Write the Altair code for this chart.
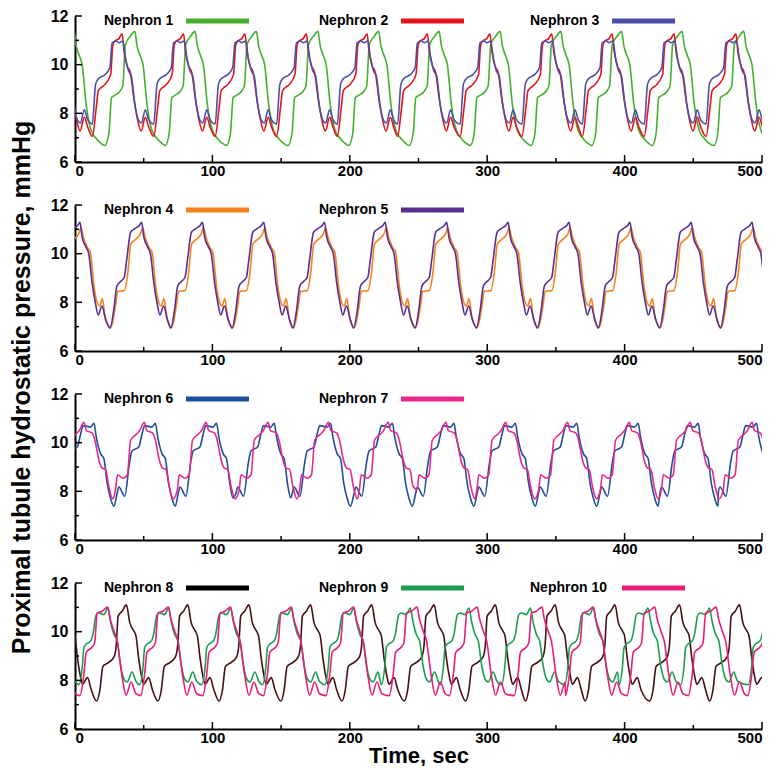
import altair as alt
import pandas as pd

FONT = "Liberation Sans"
W, H = 687, 146

# ---------------- data ----------------
X_TICKS = [0, 100, 200, 300, 400, 500]
X_MINOR = [50, 150, 250, 350, 450]
Y_TICKS = [6, 8, 10, 12]
Y_MINOR = [7, 9, 11]

LABELS = ["Nephron 1", "Nephron 2", "Nephron 3", "Nephron 4", "Nephron 5",
          "Nephron 6", "Nephron 7", "Nephron 8", "Nephron 9", "Nephron 10"]
LINE_COLORS = ["#45b02e", "#e3141b", "#4b4fa8", "#f5821f", "#5a2d91",
               "#1f4e9f", "#e8298a", "#46100f", "#1a9e4c", "#ec1b7a"]
SWATCH_COLORS = ["#45b02e", "#e3141b", "#4b4fa8", "#f5821f", "#5a2d91",
                 "#1f4e9f", "#e8298a", "#000000", "#1a9e4c", "#ec1b7a"]

# one oscillation cycle per nephron (time offset from the cycle's peak, sec / pressure, mmHg)
# and the peak time of every cycle
N1_DT = [-21.8, -18.9, -16.9, -15.2, -10.5, -8.7, -6.8, -3.2, 0.0, 1.7, 4.1, 6.0, 8.9, 12.5, 16.5, 19.5]
N1_V = [6.68, 7.16, 8.65, 8.72, 8.93, 9.13, 10.83, 11.17, 11.37, 10.76, 10.35, 10.0, 8.38, 7.3, 6.95, 6.78]
N1_PEAKS = [-0.8, 43.5, 87.4, 132.0, 176.8, 221.0, 265.0, 309.4, 353.6, 397.8, 441.8, 486.7, 531.0]

N2_DT = [-21.7, -18.8, -17.3, -12.3, -8.3, -6.8, -5.3, -2.3, 0.0, 1.4, 3.7, 6.0, 8.5, 10.9, 13.8, 16.9, 19.3]
N2_V = [7.05, 8.25, 8.93, 9.2, 9.6, 10.8, 10.97, 11.07, 11.27, 10.56, 9.95, 9.67, 8.65, 7.84, 7.27, 7.84, 7.45]
N2_PEAKS = [-10.1, 34.3, 79.0, 123.7, 168.4, 212.6, 256.5, 302.0, 347.0, 391.0, 436.0, 481.0, 525.5]

N3_DT = [-21.7, -19.3, -17.6, -12.3, -8.9, -7.3, -4.3, -2.3, 0.5, 2.4, 4.7, 6.7, 9.2, 12.1, 14.0, 16.9, 19.2]
N3_V = [7.56, 9.2, 9.4, 9.6, 9.88, 10.9, 10.97, 10.9, 10.97, 10.29, 9.74, 9.54, 8.38, 7.7, 7.6, 8.15, 7.75]
N3_PEAKS = [-10.1, 34.3, 79.0, 123.7, 168.4, 212.6, 256.5, 302.0, 347.0, 391.0, 436.0, 481.0, 525.5]

N4_DT = [-22.3, -19.1, -17.4, -12.6, -10.1, -7.8, -4.1, -1.0, 0.8, 2.5, 5.5, 7.5, 10.3, 12.7, 14.3, 16.3, 18.6]
N4_V = [6.97, 7.82, 8.45, 8.48, 9.18, 10.4, 10.6, 10.8, 11.05, 10.68, 10.25, 10.07, 8.64, 7.96, 7.85, 8.16, 7.28]
N4_PEAKS = [-41.0, 3.6, 48.5, 92.75, 137.4, 181.6, 225.8, 270.5, 315.2, 359.6, 403.9, 448.5, 492.8, 537.3]

N5_DT = [-23.0, -20.3, -18.0, -15.7, -12.7, -10.9, -8.0, -5.1, -1.7, 0.0, 1.6, 4.4, 6.4, 8.9, 11.3, 13.3, 16.0, 18.5]
N5_V = [6.94, 7.69, 8.67, 8.84, 9.02, 9.73, 10.88, 11.02, 11.16, 11.29, 10.68, 10.27, 10.0, 8.78, 7.96, 7.48, 7.85, 7.35]
N5_PEAKS = [-41.0, 3.6, 48.5, 92.75, 137.4, 181.6, 225.8, 270.5, 315.2, 359.6, 403.9, 448.5, 492.8, 537.3]

N6_DT = [-27.8, -26.6, -22.3, -18.9, -17.0, -12.1, -9.7, -7.8, -2.5, 0.0, 1.7, 4.8, 7.2, 9.6, 12.0, 14.5]
N6_V = [7.93, 8.18, 7.8, 9.15, 9.66, 9.82, 10.36, 10.7, 10.64, 10.8, 10.23, 9.55, 9.35, 8.34, 7.73, 7.39]
N6_PEAKS = [-30.9, 13.8, 58.5, 103.0, 145.0, 186.0, 231.0, 275.8, 320.5, 365.2, 409.9, 453.5, 496.0]

N7_DT = [-21.0, -19.6, -15.5, -12.4, -10.0, -6.0, -3.4, 0.0, 1.7, 6.1, 8.0, 10.9, 13.3, 15.7, 18.1, 21.0]
N7_V = [8.07, 8.68, 8.54, 8.68, 10.1, 10.34, 10.5, 10.84, 10.5, 10.39, 10.1, 9.28, 8.95, 8.9, 8.2, 7.69]
N7_PEAKS = [-38.0, 6.5, 50.5, 95.5, 140.5, 184.5, 228.0, 270.0, 313.5, 358.5, 403.4, 447.8, 492.8, 537.0]

N8_DT = [-21.7, -19.3, -17.1, -12.8, -9.1, -7.4, -6.0, -3.1, 0.0, 2.5, 5.4, 7.0, 9.0, 10.9, 12.6, 16.2, 19.0]
N8_V = [7.15, 7.6, 8.57, 8.74, 8.95, 9.42, 10.64, 10.84, 11.1, 10.36, 10.03, 9.82, 8.88, 8.2, 7.84, 8.11, 7.6]
N8_PEAKS = [-7.1, 37.4, 82.1, 126.6, 171.5, 216.0, 261.4, 306.0, 349.5, 393.0, 440.0, 483.6, 528.0]

N9_DT = [-21.0, -18.5, -17.4, -15.7, -12.5, -10.9, -8.4, -6.5, -2.9, 0.0, 1.9, 4.4, 6.8, 9.1, 11.6, 14.1, 17.6, 20.5]
N9_V = [7.82, 8.6, 9.35, 9.49, 9.62, 9.89, 10.7, 10.77, 10.7, 10.97, 10.43, 9.89, 9.62, 8.68, 8.07, 7.93, 8.34, 7.95]
N9_PEAKS = [-20.3, 23.9, 68.1, 113.3, 157.5, 202.9, 244.0, 286.7, 331.4, 377.3, 417.0, 461.8, 511.0]

N10_DT = [-20.3, -17.4, -15.7, -11.3, -9.6, -7.7, -4.1, 0.0, 1.5, 4.4, 6.8, 10.4, 13.3, 16.9, 20.5]
N10_V = [7.37, 8.27, 9.15, 9.38, 9.55, 10.77, 10.84, 11.01, 10.57, 10.03, 9.62, 8.14, 7.39, 7.93, 7.45]
N10_PEAKS = [-20.3, 23.9, 68.1, 113.3, 157.5, 202.9, 249.0, 292.8, 339.9, 377.3, 422.0, 466.7, 510.0]


def cycles(dts, vs, peaks):
    ts, out = [], []
    for k, p in enumerate(peaks):
        limit = peaks[k + 1] + dts[0] if k + 1 < len(peaks) else float("inf")
        for d, v in zip(dts, vs):
            if p + d < limit:
                ts.append(p + d)
                out.append(v)
    return pd.DataFrame({"t": ts, "v": out})


SERIES = [
    cycles(N1_DT, N1_V, N1_PEAKS), cycles(N2_DT, N2_V, N2_PEAKS), cycles(N3_DT, N3_V, N3_PEAKS),
    cycles(N4_DT, N4_V, N4_PEAKS), cycles(N5_DT, N5_V, N5_PEAKS),
    cycles(N6_DT, N6_V, N6_PEAKS), cycles(N7_DT, N7_V, N7_PEAKS),
    cycles(N8_DT, N8_V, N8_PEAKS), cycles(N9_DT, N9_V, N9_PEAKS), cycles(N10_DT, N10_V, N10_PEAKS),
]

ONE = pd.DataFrame({"k": [0]})
X_SCALE = alt.Scale(domain=[0, 500], nice=False, zero=False)
Y_SCALE = alt.Scale(domain=[6, 12], nice=False, zero=False)

# legend slot positions (px from the plot's left edge)
LEG_TEXT_X = [29, 244, 455]
LEG_Y = 5


def make_axes(bottom_title, y_title):
    xkw = dict(values=X_TICKS, format="d", ticks=False, grid=False, domainColor="black",
               domainWidth=2, labelFont=FONT, labelFontWeight="bold", labelFontSize=15,
               labelColor="black", labelPadding=1)
    if bottom_title:
        xkw.update(titleFont=FONT, titleFontSize=22, titleFontWeight="bold",
                   titleColor="black", titlePadding=0)
    ykw = dict(values=Y_TICKS, ticks=False, grid=False, domainColor="black", domainWidth=2,
               labelFont=FONT, labelFontWeight="bold", labelFontSize=16, labelColor="black",
               labelPadding=7)
    if y_title:
        ykw.update(titleFont=FONT, titleFontSize=25, titleFontWeight="bold", titleColor="black",
                   titleAngle=270, titleBaseline="alphabetic", titleAlign="center",
                   titleX=-46, titleY=182)
    return alt.Axis(**xkw), alt.Axis(**ykw)


def panel(idx, bottom_title=False, y_title=False):
    xaxis, yaxis = make_axes(bottom_title, y_title)
    xt = "Time, sec" if bottom_title else None
    yt = "Proximal tubule hydrostatic pressure, mmHg" if y_title else None

    def xenc(field):
        return alt.X(field, type="quantitative", scale=X_SCALE, axis=xaxis, title=xt)

    def yenc(field):
        return alt.Y(field, type="quantitative", scale=Y_SCALE, axis=yaxis, title=yt)

    layers = []
    for i in idx:
        layers.append(
            alt.Chart(SERIES[i]).mark_line(color=LINE_COLORS[i], strokeWidth=1.6, clip=True,
                                           interpolate="monotone")
            .encode(x=xenc("t"), y=yenc("v"))
        )
    # inward ticks
    for vals, ln in ((X_TICKS, 7), (X_MINOR, 4)):
        layers.append(
            alt.Chart(pd.DataFrame({"tx": vals})).mark_rule(color="black", strokeWidth=1.5)
            .encode(x=xenc("tx"), y=alt.value(H), y2=alt.value(H - ln))
        )
    for vals, ln in ((Y_TICKS, 7), (Y_MINOR, 4)):
        layers.append(
            alt.Chart(pd.DataFrame({"ty": vals})).mark_rule(color="black", strokeWidth=1.5)
            .encode(y=yenc("ty"), x=alt.value(0), x2=alt.value(ln))
        )
    # in-plot legend
    for slot, i in enumerate(idx):
        tx = LEG_TEXT_X[slot]
        off = 92 if len(LABELS[i]) > 9 else 82
        layers.append(
            alt.Chart(ONE).mark_text(text=LABELS[i], align="left", baseline="middle", font=FONT,
                                     fontSize=14, fontWeight="bold", color="black")
            .encode(x=alt.value(tx), y=alt.value(LEG_Y))
        )
        layers.append(
            alt.Chart(ONE).mark_rule(color=SWATCH_COLORS[i], strokeWidth=5)
            .encode(x=alt.value(tx + off), x2=alt.value(tx + off + 63), y=alt.value(LEG_Y))
        )
    return alt.layer(*layers).properties(width=W, height=H)


p1 = panel([0, 1, 2])
p2 = panel([3, 4], y_title=True)
p3 = panel([5, 6])
p4 = panel([7, 8, 9], bottom_title=True)

chart = (
    alt.vconcat(p1, p2, p3, p4, spacing=43, bounds="flush")
    .properties(padding=0, background="white")
    .configure_view(stroke=None)
)

chart.save("out.html", embed_options={"renderer": "svg", "actions": False})
